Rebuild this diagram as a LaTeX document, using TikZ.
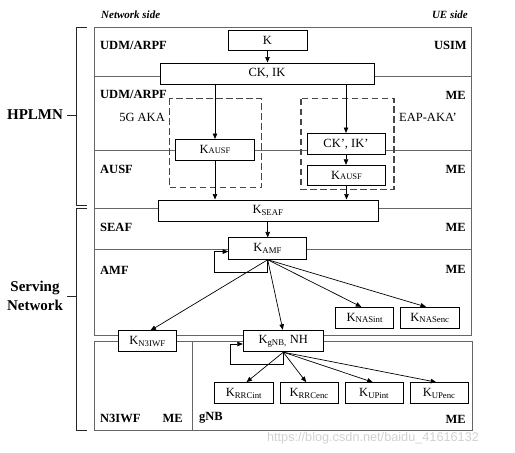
\documentclass[tikz,border=0pt]{standalone}
\usepackage{fontspec}
\setmainfont{Liberation Serif}
\newfontfamily\wmfont{Liberation Sans}
\usetikzlibrary{arrows.meta,calc}
\begin{document}
\begin{tikzpicture}[x=1pt,y=-1pt,
  kbox/.style={draw=black, line width=1pt, fill=white, inner sep=0pt,
    font=\fontsize{12.5}{14}\selectfont},
  wbox/.style={kbox, minimum width=58.3pt, minimum height=21.3pt},
  region/.style={draw=black!60, line width=0.9pt},
  dbox/.style={draw=black!72, line width=1.1pt, dash pattern=on 6.5pt off 3.5pt},
  arr/.style={-{Triangle[length=5.5pt,width=4.5pt]}, line width=0.7pt, draw=black},
  brk/.style={draw=black!85, line width=0.9pt},
  lab/.style={font=\fontsize{12.5}{14}\selectfont\bfseries, inner sep=0pt},
  txt/.style={font=\fontsize{12.5}{14}\selectfont, inner sep=0pt},
  big/.style={font=\fontsize{15}{18.6}\selectfont\bfseries, inner sep=0pt, align=center},
]
\useasboundingbox (0,0) rectangle (515,453);

% regions
\draw[region] (94.3,27.3) rectangle (471.7,335.5);
\draw[region] (94.3,76) -- (471.7,76);
\draw[region] (94.3,150.3) -- (471.7,150.3);
\draw[region] (94.3,208.3) -- (471.7,208.3);
\draw[region] (94.3,249.3) -- (471.7,249.3);
\draw[region] (94.3,341.7) rectangle (472,430.7);
\draw[region] (192.7,341.7) -- (192.7,430.7);

% dashed groups
\draw[dbox] (169.3,98.3) rectangle (261.7,187.7);
\draw[dbox] (301,98.7) rectangle (394,189.3);

% brackets
\draw[brk] (87.3,27.3) -- (76.7,27.3) -- (76.7,205.7) -- (87.3,205.7);
\draw[brk] (67,115) -- (76.7,115);
\draw[brk] (87.3,208.3) -- (76.7,208.3) -- (76.7,430.7) -- (87.3,430.7);
\draw[brk] (67,296.7) -- (76.7,296.7);
\node[big] (hplmn) at (35,115) {HPLMN};
\node[big] (serving) at (35,296) {Serving\\Network};

% side headings
\node[font=\fontsize{11}{13}\selectfont\bfseries\itshape, inner sep=0pt, anchor=west] (netside) at (101,15) {Network side};
\node[font=\fontsize{11}{13}\selectfont\bfseries\itshape, inner sep=0pt, anchor=east] (ueside) at (468,15) {UE side};

% region labels
\node[lab, anchor=west] (l1) at (100,45) {UDM/ARPF};
\node[lab, anchor=east] (r1) at (467,45) {USIM};
\node[lab, anchor=west] (l2) at (100,94) {UDM/ARPF};
\node[lab, anchor=east] (r2) at (466,95) {ME};
\node[lab, anchor=west] (l3) at (100,169) {AUSF};
\node[lab, anchor=east] (r3) at (466,169) {ME};
\node[lab, anchor=west] (l4) at (100,227) {SEAF};
\node[lab, anchor=east] (r4) at (466,227) {ME};
\node[lab, anchor=west] (l5) at (100,270) {AMF};
\node[lab, anchor=east] (r5) at (466,269.5) {ME};
\node[lab, anchor=west] (l6) at (100,418) {N3IWF};
\node[lab, anchor=east] (m6) at (183,418) {ME};
\node[lab, anchor=west] (l7) at (199,418) {gNB};
\node[lab, anchor=east] (r7) at (466,419) {ME};
\node[txt, anchor=east] (aka) at (165,117) {5G AKA};
\node[txt, anchor=west] (eap) at (399,117) {EAP-AKA'};

% key boxes
\node[kbox, minimum width=79pt, minimum height=20pt] (k) at (267.5,40) {K};
\node[kbox, minimum width=214pt, minimum height=21pt] (ckik) at (267,73.5) {CK, IK};
\node[kbox, minimum width=79.5pt, minimum height=20.5pt] (kausfL) at (215,149.75) {K{\fontsize{8.5}{10}\selectfont AUSF}};
\node[kbox, minimum width=78pt, minimum height=21pt] (ckikp) at (346,144) {CK', IK'};
\node[kbox, minimum width=78.5pt, minimum height=20.4pt] (kausfR) at (346.5,175.5) {K{\fontsize{8.5}{10}\selectfont AUSF}};
\node[kbox, minimum width=220pt, minimum height=21pt] (kseaf) at (268,210.5) {K\textsubscript{SEAF}};
\node[kbox, minimum width=78pt, minimum height=21.3pt] (kamf) at (267.7,248.6) {K\textsubscript{AMF}};
\node[wbox, minimum height=20.7pt] (kn3iwf) at (147.5,341.3) {K\textsubscript{N3IWF}};
\node[kbox, minimum width=80pt, minimum height=21.4pt] (kgnb) at (283.3,341) {K\textsubscript{gNB,} NH};
\node[wbox] (knasint) at (364.8,318) {K\textsubscript{NASint}};
\node[wbox] (knasenc) at (430,318) {K\textsubscript{NASenc}};
\node[wbox] (krrcint) at (244,393.3) {K\textsubscript{RRCint}};
\node[wbox] (krrcenc) at (309.2,393.3) {K\textsubscript{RRCenc}};
\node[wbox] (kupint) at (374.2,393.3) {K\textsubscript{UPint}};
\node[wbox] (kupenc) at (439.2,393.3) {K\textsubscript{UPenc}};

% arrows
\draw[arr] (k.south) -- (k.south |- ckik.north);
\draw[arr] (ckik.south -| kausfL) -- (kausfL.north);
\draw[arr] (ckik.south -| ckikp) -- (ckikp.north);
\draw[arr] (ckikp.south) -- (ckikp.south |- kausfR.north);
\draw[arr] (kausfL.south) -- (kausfL.south |- kseaf.north);
\draw[arr] (kausfR.south) -- (kausfR.south |- kseaf.north);
\draw[arr] (kseaf.south -| kamf) -- (kamf.north);

\coordinate (loopA) at (214.3,272.7);
\draw[arr] (kamf.south) |- (loopA) |- ([yshift=-3pt]kamf.west);
\draw[arr] (kamf.south) -- ([xshift=3pt]kn3iwf.north);
\draw[arr] (kamf.south) -- ([xshift=-0.5pt]kgnb.north);
\draw[arr] (kamf.south) -- ([xshift=-3.5pt]knasint.north);
\draw[arr] (kamf.south) -- ([xshift=-4pt]knasenc.north);

\coordinate (loopB) at (230,364.3);
\draw[arr] (kgnb.south) |- (loopB) |- ([yshift=-3pt]kgnb.west);
\draw[arr] (kgnb.south) -- ([xshift=2.5pt]krrcint.north);
\draw[arr] (kgnb.south) -- ([xshift=-3pt]krrcenc.north);
\draw[arr] (kgnb.south) -- ([xshift=-1.5pt]kupint.north);
\draw[arr] (kgnb.south) -- ([xshift=-3pt]kupenc.north);

% watermark
\node[font=\wmfont\fontsize{12.7}{14}\selectfont, text=black!18, inner sep=0pt] (wm) at (373,438.3) {https://blog.csdn.net/baidu\_41616132};
\end{tikzpicture}
\end{document}
